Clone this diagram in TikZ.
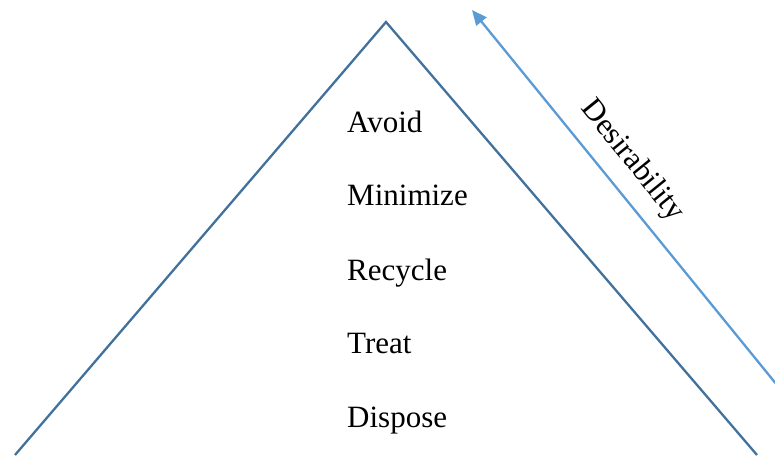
\documentclass[tikz,border=0pt]{standalone}
\usepackage{fontspec}
\setmainfont{Liberation Serif}
\usetikzlibrary{arrows.meta}
\definecolor{tri}{HTML}{41719C}
\definecolor{arr}{HTML}{5B9BD5}
\begin{document}
\begin{tikzpicture}[x=1pt,y=-1pt,
  lvl/.style={anchor=base west,inner sep=0pt,font=\fontsize{31}{36}\selectfont},
  side/.style={line width=2.3pt,draw=tri},
  desire/.style={line width=2.3pt,draw=arr,-{Triangle[length=15pt,width=13pt]}}]
\useasboundingbox (0,0) rectangle (775,455);
\coordinate (apex) at (386,22);
\coordinate (bl) at (15,455);
\coordinate (br) at (757,455);
\draw[side] (bl) -- (apex) -- (br);
\coordinate (as) at (777,385);
\coordinate (ae) at (472,10);
\draw[desire] (as) -- (ae);
\node[lvl] (avoid) at (347,132) {Avoid};
\node[lvl] (min) at (347,205.5) {Minimize};
\node[lvl] (rec) at (347,280) {Recycle};
\node[lvl] (treat) at (347,353) {Treat};
\node[lvl] (disp) at (347,427) {Dispose};
\node[inner sep=0pt,rotate=-51,font=\fontsize{31}{36}\selectfont] (des) at (632,161) {Desirability};
\end{tikzpicture}
\end{document}
